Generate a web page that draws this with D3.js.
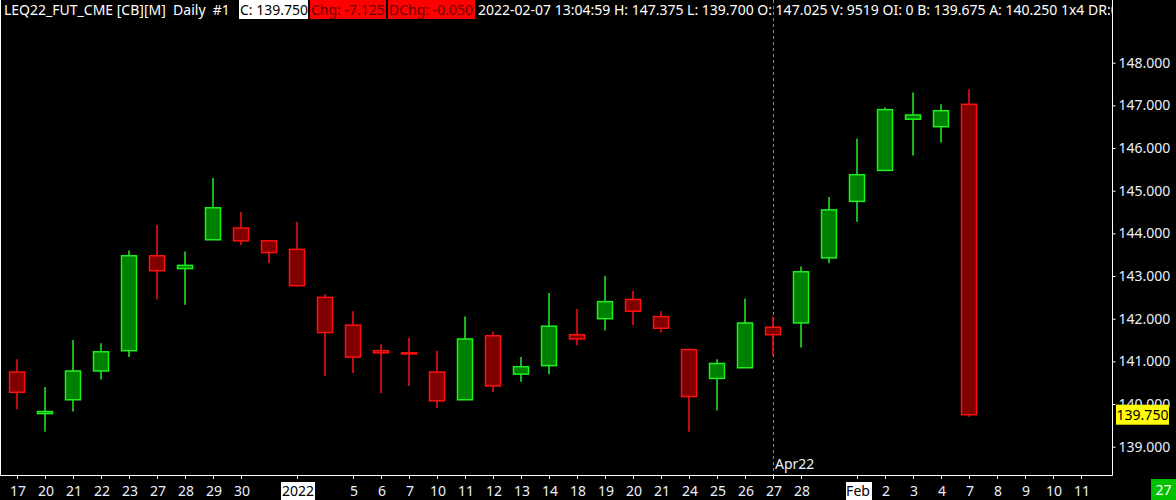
<!DOCTYPE html>
<html>
<head>
<meta charset="utf-8">
<script src="https://cdn.jsdelivr.net/npm/d3@7"></script>
<style>
    html, body { margin: 0; padding: 0; background: #000; }
    svg { display: block; }
    text { font-family: "Noto Sans", "Open Sans", sans-serif; }
</style>
</head>
<body>
<div id="chart"></div>
<script>
// daily bars, Dec 17 2021 .. Feb 7 2022
var opens  = [140.750, 139.775, 140.100, 140.775, 141.250, 143.475, 143.175, 143.850, 144.125, 143.825,
              143.625, 142.500, 141.850, 141.250, 141.200, 140.750, 140.100, 141.600, 140.700, 140.900,
              141.625, 142.000, 142.450, 142.050, 141.275, 140.600, 140.850, 141.800, 141.900, 143.425,
              144.750, 145.475, 146.675, 146.500, 147.025];
var highs  = [141.050, 140.400, 141.500, 141.425, 143.600, 144.200, 143.575, 145.300, 144.500, 143.850,
              144.275, 142.575, 142.175, 141.400, 141.550, 141.250, 142.050, 141.700, 141.100, 142.600,
              142.225, 143.000, 142.650, 142.175, 141.300, 141.050, 142.475, 142.050, 143.225, 144.850,
              146.225, 146.950, 147.300, 147.025, 147.375];
var lows   = [139.875, 139.350, 139.825, 140.575, 141.100, 142.450, 142.325, 143.850, 143.725, 143.300,
              142.750, 140.650, 140.725, 140.250, 140.425, 139.900, 140.100, 140.275, 140.525, 140.700,
              141.375, 141.725, 141.850, 141.675, 139.350, 139.850, 140.850, 141.125, 141.325, 143.300,
              144.275, 145.475, 145.825, 146.125, 139.700];
var closes = [140.275, 139.825, 140.775, 141.225, 143.475, 143.125, 143.250, 144.600, 143.825, 143.550,
              142.775, 141.675, 141.100, 141.200, 141.175, 140.075, 141.525, 140.425, 140.875, 141.825,
              141.525, 142.400, 142.175, 141.775, 140.175, 140.950, 141.900, 141.625, 143.100, 144.550,
              145.375, 146.900, 146.775, 146.875, 139.750];

// one label per session slot, "" where the platform hides it
var tickLabels = ["17", "20", "21", "22", "23", "27", "28", "29", "30", "", "2022", "", "5", "6", "7",
                  "10", "11", "12", "13", "14", "18", "19", "20", "21", "24", "25", "26", "27", "28", "",
                  "Feb", "2", "3", "4", "7", "8", "9", "10", "11"];
var boxedLabels = ["2022", "Feb"];
var priceTicks = [139, 140, 141, 142, 143, 144, 145, 146, 147, 148];

var rollSlot = 27;
var rollLabel = "Apr22";
var lastPrice = 139.750;
var cornerLabel = "27";

var headerMain = "LEQ22_FUT_CME [CB][M]  Daily  #1";
var headerClose = "C: 139.750";
var headerChg = "Chg: -7.125";
var headerDChg = "DChg: -0.050";
var headerRest = "2022-02-07 13:04:59 H: 147.375 L: 139.700 O: 147.025 V: 9519 OI: 0 B: 139.675 A: 140.250 1x4 DR:0";

(function () {
    "use strict";

    var W = 1176, H = 500;
    var plotRight = 1112, plotBottom = 475;

    var svg = d3.select("#chart")
        .append("svg")
        .attr("width", W)
        .attr("height", H)
        .style("background", "#000");

    var x = d3.scaleLinear()
        .domain([0, tickLabels.length - 1])
        .range([17, 17 + 28 * (tickLabels.length - 1)]);

    var y = d3.scaleLinear()
        .domain([139, 148])
        .range([446.7, 62.7]);

    var bars = opens.map(function (o, i) {
        return { i: i, o: o, h: highs[i], l: lows[i], c: closes[i] };
    });

    svg.append("clipPath").attr("id", "plotclip")
        .append("rect").attr("x", 0).attr("y", 0)
        .attr("width", plotRight).attr("height", plotBottom);

    // contract roll marker
    svg.append("line")
        .attr("x1", x(rollSlot) + 0.5).attr("x2", x(rollSlot) + 0.5)
        .attr("y1", 0).attr("y2", plotBottom)
        .attr("stroke", "#8a8a8a")
        .attr("stroke-width", 1)
        .attr("stroke-dasharray", "3,3");
    svg.append("text")
        .attr("x", x(rollSlot) + 2)
        .attr("y", plotBottom - 6)
        .attr("fill", "#e8f0ff")
        .style("font-size", "14px")
        .text(rollLabel);

    // candles
    var g = svg.append("g").attr("clip-path", "url(#plotclip)");
    var up = function (d) { return d.c >= d.o; };

    g.selectAll("line.wick")
        .data(bars)
        .enter()
        .append("line")
        .attr("class", "wick")
        .attr("x1", function (d) { return x(d.i); })
        .attr("x2", function (d) { return x(d.i); })
        .attr("y1", function (d) { return y(d.h); })
        .attr("y2", function (d) { return y(d.l); })
        .attr("stroke", function (d) { return up(d) ? "#1ef01e" : "#ff1010"; })
        .attr("stroke-width", 1.5);

    g.selectAll("rect.body")
        .data(bars)
        .enter()
        .append("rect")
        .attr("class", "body")
        .attr("x", function (d) { return x(d.i) - 7.5; })
        .attr("width", 15)
        .attr("y", function (d) { return y(Math.max(d.o, d.c)); })
        .attr("height", function (d) { return Math.max(1, Math.abs(y(d.o) - y(d.c))); })
        .attr("fill", function (d) { return up(d) ? "#008000" : "#800000"; })
        .attr("stroke", function (d) { return up(d) ? "#1ef01e" : "#ff1010"; })
        .attr("stroke-width", 1.5);

    // frame
    svg.append("path")
        .attr("d", "M0.5,0 V" + (plotBottom + 0.5) + " H" + (plotRight + 0.5) + " V0")
        .attr("fill", "none")
        .attr("stroke", "#ffffff")
        .attr("stroke-width", 1);

    // price axis on the right
    var yAxis = svg.append("g")
        .attr("transform", "translate(" + (plotRight + 0.5) + ",0)")
        .call(d3.axisRight(y)
            .tickValues(priceTicks)
            .tickSize(3)
            .tickPadding(3)
            .tickFormat(d3.format(".3f")));
    yAxis.select(".domain").remove();
    yAxis.selectAll(".tick line").attr("stroke", "#ffffff");
    yAxis.selectAll(".tick text")
        .attr("fill", "#e8f0ff")
        .style("font-size", "14px")
        .style("font-family", "'Noto Sans', sans-serif");

    // last price marker (covers the 140.000 label, as on the platform)
    var lp = svg.append("g").attr("transform", "translate(1116," + y(lastPrice) + ")");
    lp.append("rect")
        .attr("x", 0).attr("y", -10)
        .attr("width", 53).attr("height", 20)
        .attr("fill", "#ffff00");
    lp.append("text")
        .attr("x", 26.5).attr("y", 5)
        .attr("text-anchor", "middle")
        .attr("fill", "#000")
        .style("font-size", "14px")
        .text(d3.format(".3f")(lastPrice));

    // date axis
    var shown = tickLabels.map(function (t, i) { return { i: i, t: t }; })
        .filter(function (d) { return d.t !== ""; });

    svg.selectAll("line.xtick")
        .data(shown)
        .enter()
        .append("line")
        .attr("class", "xtick")
        .attr("x1", function (d) { return x(d.i) + 0.5; })
        .attr("x2", function (d) { return x(d.i) + 0.5; })
        .attr("y1", plotBottom)
        .attr("y2", plotBottom + 4)
        .attr("stroke", "#ffffff");

    var xl = svg.selectAll("g.xlabel")
        .data(shown)
        .enter()
        .append("g")
        .attr("class", "xlabel")
        .attr("transform", function (d) { return "translate(" + x(d.i) + ",0)"; });
    xl.filter(function (d) { return boxedLabels.indexOf(d.t) >= 0; })
        .append("rect")
        .attr("x", function (d) { return d.t === "Feb" ? -11 : -16; })
        .attr("width", function (d) { return d.t === "Feb" ? 26 : 34; })
        .attr("y", 482)
        .attr("height", 18)
        .attr("fill", "#ffffff");
    xl.append("text")
        .attr("x", 1)
        .attr("y", 496)
        .attr("text-anchor", "middle")
        .attr("fill", function (d) { return boxedLabels.indexOf(d.t) >= 0 ? "#000" : "#e8f0ff"; })
        .style("font-size", "14px")
        .text(function (d) { return d.t; });

    // bottom right corner box
    svg.append("rect")
        .attr("x", 1151).attr("y", 479)
        .attr("width", 25).attr("height", 21)
        .attr("fill", "#00c000");
    svg.append("text")
        .attr("x", 1163.5).attr("y", 495)
        .attr("text-anchor", "middle")
        .attr("fill", "#ffffff")
        .style("font-size", "14px")
        .text(cornerLabel);

    // header line: segments sit at the same spots as on the platform
    var hdr = svg.append("g").attr("clip-path", "url(#plotclip)");
    var segs = [
        { t: headerMain,  x0: 3,   x1: 237, bg: null,      fg: "#ffffff" },
        { t: headerClose, x0: 239, x1: 308, bg: "#ffffff", fg: "#000000" },
        { t: headerChg,   x0: 310, x1: 386, bg: "#ff0000", fg: "#6a0000" },
        { t: headerDChg,  x0: 388, x1: 475, bg: "#ff0000", fg: "#6a0000" },
        { t: headerRest,  x0: 477, x1: 1112, bg: null,     fg: "#ffffff" }
    ];
    hdr.selectAll("rect")
        .data(segs.filter(function (d) { return d.bg; }))
        .enter()
        .append("rect")
        .attr("x", function (d) { return d.x0; })
        .attr("y", 0)
        .attr("width", function (d) { return d.x1 - d.x0; })
        .attr("height", 19)
        .attr("fill", function (d) { return d.bg; });
    hdr.selectAll("text")
        .data(segs)
        .enter()
        .append("text")
        .attr("x", function (d) { return d.x0 + 1; })
        .attr("y", 15)
        .attr("fill", function (d) { return d.fg; })
        .style("font-size", "14px")
        .style("white-space", "pre")
        .text(function (d) { return d.t; });
})();
</script>
</body>
</html>
